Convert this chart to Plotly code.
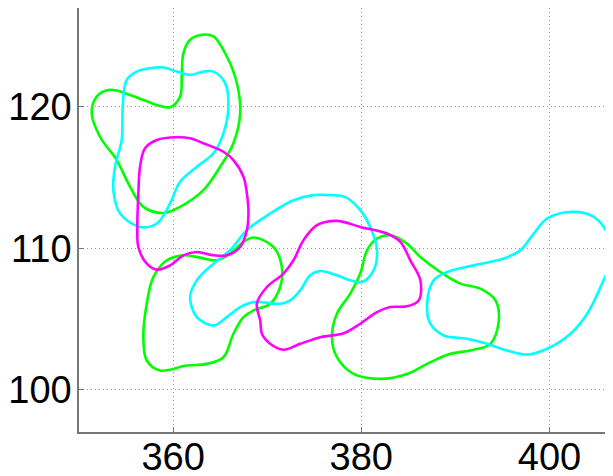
import plotly.graph_objects as go

# ---- data (data units) ----
x_ticks = [360, 380, 400]
y_ticks = [100, 110, 120]
x_range = [350, 406.75]
y_range = [97, 127]

green_1_x = [363.05, 361.81, 361.10, 360.93, 360.74, 359.68, 358.27, 355.43, 353.30, 351.88, 351.35, 352.23,
             354.01, 355.43, 356.84, 358.97, 360.74, 363.22, 365.00, 366.41, 367.13, 366.78, 365.71, 364.29]
green_1_y = [125.11, 124.75, 123.81, 122.39, 120.73, 119.98, 120.14, 120.85, 121.21, 120.73, 119.55, 117.89,
             116.24, 114.35, 112.93, 112.50, 112.93, 114.11, 115.77, 117.43, 119.55, 121.68, 123.57, 124.99]

green_2_x = [368.54, 370.67, 371.56, 371.38, 370.32, 368.54, 367.48, 366.41, 365.35, 363.59, 361.46, 358.62,
             357.20, 356.84, 357.20, 357.90, 359.33, 361.10, 362.87, 364.65, 366.06, 367.48]
green_2_y = [110.76, 110.09, 108.67, 107.26, 106.08, 105.60, 105.13, 103.95, 102.29, 101.82, 101.70, 101.35,
             102.06, 103.71, 106.08, 107.96, 109.15, 109.50, 109.34, 109.15, 109.62, 110.45]

green_3_x = [383.09, 384.86, 386.28, 388.40, 390.53, 392.66, 394.26, 394.61, 393.72, 391.60, 389.47, 386.99,
             384.86, 382.02, 379.18, 377.41, 376.88, 377.41, 378.83, 379.89, 380.61, 381.67]
green_3_y = [110.92, 110.33, 109.38, 108.32, 107.50, 107.14, 106.31, 104.89, 103.24, 102.77, 102.53, 101.82,
             101.11, 100.76, 101.11, 102.29, 103.71, 105.37, 106.79, 108.21, 109.86, 110.69]

cyan_1_x = [357.55, 356.14, 355.07, 354.65, 354.54, 353.83, 353.65, 354.36, 356.49, 358.27, 359.68, 360.74,
            362.52, 364.29, 365.35, 365.88, 365.53, 364.29, 363.22, 361.81, 360.39, 358.97]
cyan_1_y = [122.74, 122.50, 121.91, 120.02, 117.66, 115.77, 114.11, 112.46, 111.51, 111.75, 113.17, 114.70,
            115.77, 116.72, 118.13, 120.02, 121.68, 122.50, 122.50, 122.27, 122.50, 122.79]

cyan_2_x = [364.29, 362.52, 361.81, 362.52, 364.29, 366.06, 367.84, 370.32, 372.80, 374.93, 376.70, 378.30,
            379.89, 380.96, 381.67, 381.31, 380.07, 378.83, 377.41, 375.64, 374.57, 373.51, 372.45, 371.38,
            368.54, 367.13, 365.71]
cyan_2_y = [104.54, 105.13, 106.55, 107.73, 108.91, 109.86, 111.28, 112.46, 113.40, 113.76, 113.76, 113.62,
            112.70, 111.51, 109.86, 108.44, 107.61, 107.73, 108.09, 108.39, 108.09, 107.02, 106.31, 106.08,
            106.19, 105.84, 105.13]

cyan_3_x = [386.99, 387.69, 389.12, 391.95, 395.14, 396.91, 398.33, 399.76, 402.23, 404.71, 406.31, 406.49,
            405.43, 404.01, 402.23, 399.76, 397.63, 395.50, 393.37, 391.24, 388.76, 387.34]
cyan_3_y = [106.08, 107.73, 108.32, 108.79, 109.27, 109.86, 111.04, 112.11, 112.57, 112.22, 110.80, 109.15,
            107.26, 105.37, 103.95, 102.89, 102.48, 102.77, 103.24, 103.60, 103.83, 104.66]

magenta_1_x = [360.39, 358.27, 357.02, 356.49, 356.31, 356.20, 356.31, 357.20, 358.27, 359.68, 361.10, 362.52,
               364.29, 365.71, 367.13, 367.84, 368.01, 367.84, 367.48, 366.41, 365.35, 363.22, 361.81]
magenta_1_y = [117.85, 117.66, 117.07, 115.77, 113.88, 111.51, 110.09, 108.91, 108.49, 108.79, 109.50, 109.74,
               109.50, 109.50, 110.09, 111.28, 112.46, 113.88, 115.06, 116.24, 116.83, 117.43, 117.78]

magenta_2_x = [369.26, 368.90, 369.97, 371.73, 372.80, 373.86, 375.29, 377.41, 379.89, 382.73, 384.15, 385.21,
               386.28, 386.10, 384.86, 383.09, 381.67, 379.89, 378.12, 375.64, 373.51, 371.73, 370.32, 369.44]
magenta_2_y = [104.89, 106.08, 107.26, 108.21, 109.15, 110.57, 111.63, 111.94, 111.51, 111.04, 110.45, 109.15,
               107.73, 106.31, 105.89, 105.84, 105.48, 104.66, 103.99, 103.71, 103.24, 102.82, 103.24, 103.95]

curves = [
    (green_1_x, green_1_y, "#00FF00"),
    (green_2_x, green_2_y, "#00FF00"),
    (green_3_x, green_3_y, "#00FF00"),
    (cyan_1_x, cyan_1_y, "#00FFFF"),
    (cyan_2_x, cyan_2_y, "#00FFFF"),
    (cyan_3_x, cyan_3_y, "#00FFFF"),
    (magenta_1_x, magenta_1_y, "#FF00FF"),
    (magenta_2_x, magenta_2_y, "#FF00FF"),
]

fig = go.Figure()
for xs, ys, col in curves:
    fig.add_trace(go.Scatter(
        x=list(xs) + [xs[0]], y=list(ys) + [ys[0]],
        mode="lines", line=dict(color=col, width=2.6, shape="spline", smoothing=1),
        hoverinfo="skip", showlegend=False,
    ))

axis_common = dict(
    showline=True, linecolor="#777777", linewidth=1.5,
    ticks="inside", ticklen=5, tickcolor="#777777", tickwidth=1,
    showgrid=True, gridcolor="#9a9a9a", griddash="1px,3px", gridwidth=1,
    zeroline=False, automargin=False,
    tickfont=dict(family="Liberation Sans, Arial, sans-serif", size=38, color="black"),
    mirror=False,
)

# the page body has an 8px default margin, so the figure is sized to the visible area
fig.update_layout(
    width=605, height=468,
    margin=dict(l=71, r=0, t=0, b=44, pad=0),
    paper_bgcolor="white", plot_bgcolor="white",
    xaxis=dict(range=x_range, tickvals=x_ticks, ticktext=[str(v) for v in x_ticks],
               ticklabelstandoff=-9, **axis_common),
    yaxis=dict(range=y_range, tickvals=y_ticks, ticktext=[str(v) for v in y_ticks],
               ticklabelstandoff=-2, **axis_common),
)

fig.write_html("out.html")
